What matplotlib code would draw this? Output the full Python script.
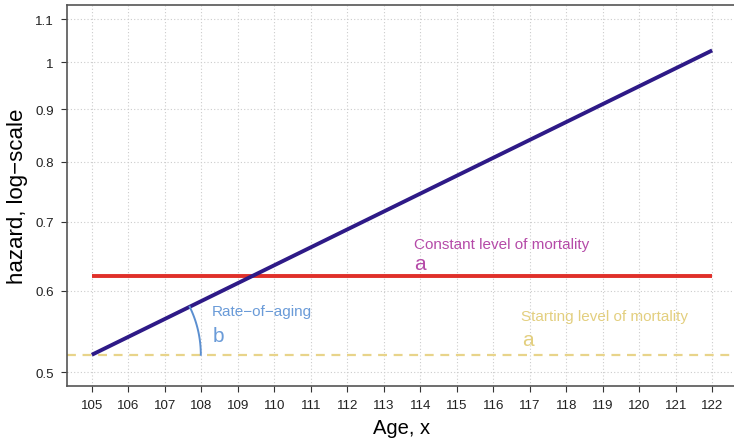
import numpy as np
import matplotlib
matplotlib.use("Agg")
import matplotlib.pyplot as plt

plt.rcParams['font.family'] = ['Liberation Sans', 'DejaVu Sans']

# model values
ages = [105, 122]
start_level = 0.52      # a, starting level of mortality
rate_of_aging = 0.04    # b
constant_level = 0.62   # constant mortality
gompertz = [start_level * np.exp(rate_of_aging * (x - ages[0])) for x in ages]

x_ticks = list(range(105, 123))
y_ticks = [0.5, 0.6, 0.7, 0.8, 0.9, 1.0, 1.1]
y_labels = ['0.5', '0.6', '0.7', '0.8', '0.9', '1', '1.1']

fig = plt.figure(figsize=(7.34, 4.39), dpi=100)
ax = fig.add_axes([67 / 734, 52.3 / 439, 670 / 734, 380.7 / 439])
ax.set_yscale('log')
ax.set_xlim(104.32, 122.68)
ax.set_ylim(0.4853, 1.136)

ax.set_xticks(x_ticks)
ax.set_xticklabels([str(t) for t in x_ticks])
ax.set_yticks(y_ticks)
ax.set_yticklabels(y_labels)
ax.minorticks_off()
ax.tick_params(axis='both', labelsize=9.6, length=4.5, width=0.8, colors='#333333',
               labelcolor='#222222', direction='out', pad=5)
ax.grid(True, color='#cccccc', linestyle=(0, (1, 2)), linewidth=0.8)
ax.set_axisbelow(True)
for s in ax.spines.values():
    s.set_color('#555555')
    s.set_linewidth(1.2)

# lines
ax.axhline(start_level, color='#e8d48a', linestyle=(0, (4, 3)), linewidth=1.6)
ax.plot(ages, [constant_level, constant_level], color='#e0302a', linewidth=2.8,
        solid_capstyle='butt')
ax.plot(ages, gompertz, color='#2e1a87', linewidth=2.8, solid_capstyle='butt')

# rate-of-aging arc, circular in screen space around the line start
fig.canvas.draw()
cx, cy = ax.transData.transform((ages[0], start_level))
ex, ey = ax.transData.transform((ages[1], gompertz[1]))
theta_line = np.arctan2(ey - cy, ex - cx)
r = 109.0
th = np.linspace(0, theta_line, 50)
pts = np.column_stack([cx + r * np.cos(th), cy + r * np.sin(th)])
arc = ax.transData.inverted().transform(pts)
ax.plot(arc[:, 0], arc[:, 1], color='#5b8fd0', linewidth=1.4)

ax.text(108.3, 0.5734, 'Rate\u2212of\u2212aging', color='#6a9bd8', fontsize=11, va='center')
ax.text(108.3, 0.5434, 'b', color='#6a9bd8', fontsize=15, va='center')
ax.text(113.83, 0.6659, 'Constant level of mortality', color='#b54ba8', fontsize=11, va='center')
ax.text(113.83, 0.6383, 'a', color='#b54ba8', fontsize=15, va='center')
ax.text(116.76, 0.567, 'Starting level of mortality', color='#e3cf7f', fontsize=11, va='center')
ax.text(116.8, 0.5386, 'a', color='#e3cf7f', fontsize=15, va='center')

ax.set_xlabel('Age, x', fontsize=14.5, labelpad=5)
ax.set_ylabel('hazard, log\u2212scale', fontsize=16, labelpad=5)

fig.savefig('out.png', dpi=100)
